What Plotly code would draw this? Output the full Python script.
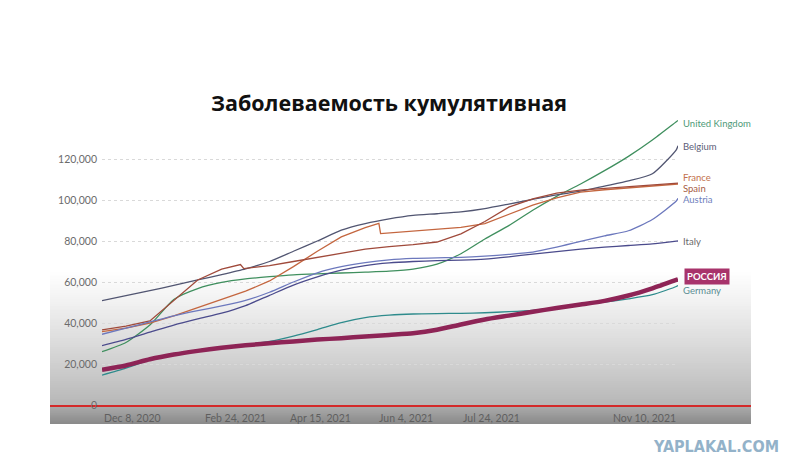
import plotly.graph_objects as go

# ---------------- data (cumulative confirmed cases per million) ----------------
dates = ["2020-12-08", "2020-12-22", "2021-01-05", "2021-01-19", "2021-02-02", "2021-02-16",
         "2021-03-02", "2021-03-16", "2021-03-30", "2021-04-13", "2021-04-27", "2021-05-11",
         "2021-05-25", "2021-06-08", "2021-06-22", "2021-07-06", "2021-07-20", "2021-08-03",
         "2021-08-17", "2021-08-31", "2021-09-14", "2021-09-28", "2021-10-12", "2021-10-26",
         "2021-11-09", "2021-11-10"]

uk      = [26000, 30500, 39000, 51500, 56800, 59800, 61500, 62600, 63500, 64000, 64400, 64800,
           65300, 66300, 68700, 73800, 81000, 87500, 95000, 101800, 107800, 114300, 121300, 129300,
           138200, 138800]
belgium = [50900, 53300, 55800, 58300, 61000, 63600, 66400, 70000, 75000, 80000, 85300, 88500,
           90800, 92500, 93300, 94200, 95800, 98000, 100300, 102500, 104300, 106800, 109300, 112800,
           124500, 126500]
austria = [34500, 37500, 40500, 43500, 46000, 48300, 51000, 55000, 60000, 64500, 67500, 69500,
           70800, 71500, 71800, 72000, 72600, 73500, 74600, 77000, 79800, 82500, 85000, 90500,
           99500, 100800]
italy   = [29000, 32000, 35500, 39000, 42000, 44800, 48500, 53500, 58500, 62500, 65800, 68000,
           69300, 70000, 70400, 70700, 71200, 72300, 73600, 74800, 76000, 77000, 77800, 78600,
           79900, 80000]
germany = [14600, 18000, 22000, 24900, 26800, 28200, 29400, 31000, 33600, 36800, 40200, 42600,
           43800, 44400, 44600, 44700, 45000, 45500, 46200, 47500, 49000, 50200, 51800, 53800,
           57800, 58300]
russia  = [17200, 19300, 22300, 24600, 26400, 27900, 29100, 30100, 31000, 31900, 32600, 33400,
           34200, 35000, 36700, 39300, 41700, 43600, 45500, 47300, 49000, 50800, 53400, 56900,
           61000, 61300]

dates_france = ["2020-12-08", "2020-12-22", "2021-01-05", "2021-01-19", "2021-02-02", "2021-02-16",
                "2021-03-02", "2021-03-16", "2021-03-30", "2021-04-13", "2021-04-27", "2021-05-11",
                "2021-05-19", "2021-05-20", "2021-05-25", "2021-06-08", "2021-06-22", "2021-07-06",
                "2021-07-20", "2021-08-03", "2021-08-17", "2021-08-31", "2021-09-14", "2021-09-28",
                "2021-10-12", "2021-10-26", "2021-11-09", "2021-11-10"]
france = [35800, 37500, 40000, 43500, 47500, 51500, 55500, 60500, 67500, 75000, 82000, 86500,
          88600, 83600, 83900, 85000, 85800, 86600, 88500, 93000, 97500, 101000, 103800, 105000,
          105800, 106600, 107600, 107800]

dates_spain = ["2020-12-08", "2020-12-22", "2021-01-05", "2021-01-19", "2021-02-02", "2021-02-16",
               "2021-02-27", "2021-03-01", "2021-03-16", "2021-03-30", "2021-04-13", "2021-04-27",
               "2021-05-11", "2021-05-25", "2021-06-08", "2021-06-22", "2021-07-06", "2021-07-20",
               "2021-08-03", "2021-08-17", "2021-08-31", "2021-09-14", "2021-09-28", "2021-10-12",
               "2021-10-26", "2021-11-09", "2021-11-10"]
spain = [36600, 38500, 41000, 51000, 61000, 66300, 68500, 66500, 68000, 70000, 72000, 74300,
         76000, 77300, 78200, 79500, 83500, 89500, 96500, 100500, 103300, 104800, 105600, 106300,
         107000, 108000, 108200]

series_names = ["United Kingdom", "Belgium", "France", "Spain", "Austria", "Italy", "Germany", "РОССИЯ"]
y_tick_values = [0, 20000, 40000, 60000, 80000, 100000, 120000]
x_tick_dates = ["2020-12-08", "2021-02-24", "2021-04-15", "2021-06-04", "2021-07-24", "2021-11-10"]
x_tick_labels = ["Dec 8, 2020", "Feb 24, 2021", "Apr 15, 2021", "Jun 4, 2021", "Jul 24, 2021", "Nov 10, 2021"]
title_text = "Заболеваемость кумулятивная"
watermark = "YAPLAKAL.COM"

# ---------------- layout geometry (target pixels; page body adds 8px offset) ----------------
W, H = 801, 473
OFF = 8
PL, PR, PT, PB = 102, 678, 110, 405          # plot area in target-screen pixels
ML, MT = PL - OFF, PT - OFF
MR, MB = W - (PR - OFF), H - (PB - OFF)
y_max = 143900


def pxx(px):   # target-screen x -> plot paper fraction
    return (px - PL) / (PR - PL)


def pxy(py):   # target-screen y -> plot paper fraction
    return (PB - py) / (PB - PT)


series = [
    # name, x, y, line colour, width, shape, label colour, label yshift
    ("United Kingdom", dates, uk, "#3f8f5e", 1.3, "spline", "#4f9a78", -3),
    ("Belgium", dates, belgium, "#515571", 1.3, "spline", "#5d6078", -1),
    ("France", dates_france, france, "#c4663f", 1.3, "linear", "#c2714c", 7),
    ("Spain", dates_spain, spain, "#a04a3b", 1.3, "linear", "#a65b43", -5),
    ("Austria", dates, austria, "#6c78bd", 1.3, "spline", "#6f7fbd", -1),
    ("Italy", dates, italy, "#4b4b8c", 1.3, "spline", "#6a6a6a", 0),
    ("Germany", dates, germany, "#2e8b8c", 1.3, "spline", "#5b8d93", -5),
    ("РОССИЯ", dates, russia, "#8e2456", 4.5, "spline", "#ffffff", 3),
]

fig = go.Figure()
for name, xs, ys, col, wd, shp, lcol, ysh in series:
    fig.add_trace(go.Scatter(x=xs, y=ys, mode="lines", name=name,
                             line=dict(color=col, width=wd, shape=shp,
                                       smoothing=0.6 if shp == "spline" else None),
                             hoverinfo="skip", showlegend=False))

annotations = []
for name, xs, ys, col, wd, shp, lcol, ysh in series:
    if name == "РОССИЯ":
        annotations.append(dict(x=xs[-1], y=ys[-1], xref="x", yref="y", text="<b>" + name + "</b>",
                                showarrow=False, xanchor="left", yanchor="middle", xshift=6, yshift=ysh,
                                font=dict(family="Lato, Noto Sans", size=9.5, color=lcol),
                                bgcolor="#a8336b", borderpad=2))
    else:
        annotations.append(dict(x=xs[-1], y=ys[-1], xref="x", yref="y", text=name,
                                showarrow=False, xanchor="left", yanchor="middle", xshift=3, yshift=ysh,
                                font=dict(family="Lato, Noto Sans", size=9.5, color=lcol)))

for i, (d, lab) in enumerate(zip(x_tick_dates, x_tick_labels)):
    anchor = "left" if i == 0 else ("right" if i == len(x_tick_dates) - 1 else "center")
    annotations.append(dict(x=d, y=0, xref="x", yref="paper", text=lab, showarrow=False,
                            xanchor=anchor, yanchor="top", yshift=-5,
                            font=dict(family="Lato, Noto Sans", size=10.5, color="#5f5f5f")))

annotations.append(dict(x=pxx(716), y=pxy(446), xref="paper", yref="paper",
                        text="<b>" + watermark + "</b>", showarrow=False,
                        xanchor="center", yanchor="middle",
                        font=dict(family="Liberation Sans Narrow, DejaVu Sans Condensed, Roboto",
                                  size=16, color="#93b2c9")))

# background gradient (video-frame look) drawn as thin overlapping strips
shapes = []
top, mid, bot = 270.0, 406.0, 424.0
n1 = 60
step1 = (mid - top) / n1
for i in range(n1):
    y0 = top + step1 * i
    y1 = min(mid, y0 + step1 + 1.0)
    t = (i + 0.5) / n1
    g = int(round(255 - (255 - 182) * (t ** 1.15)))
    shapes.append(dict(type="rect", xref="paper", yref="paper",
                       x0=pxx(50), x1=pxx(751), y0=pxy(y1), y1=pxy(y0),
                       fillcolor=f"rgb({g},{g},{g})", line=dict(width=0), layer="below"))
n2 = 10
step2 = (bot - mid) / n2
for i in range(n2):
    y0 = mid + step2 * i
    y1 = min(bot, y0 + step2 + 0.8)
    t = (i + 0.5) / n2
    g = int(round(172 - 35 * t))
    shapes.append(dict(type="rect", xref="paper", yref="paper",
                       x0=pxx(50), x1=pxx(751), y0=pxy(y1), y1=pxy(y0),
                       fillcolor=f"rgb({g},{g},{g})", line=dict(width=0), layer="below"))
shapes.append(dict(type="line", xref="paper", yref="paper",
                   x0=pxx(50), x1=pxx(751), y0=pxy(406), y1=pxy(406),
                   line=dict(color="#d42a2a", width=2), layer="below"))

fig.update_layout(
    width=W, height=H,
    margin=dict(l=ML, r=MR, t=MT, b=MB),
    paper_bgcolor="#ffffff", plot_bgcolor="rgba(0,0,0,0)",
    title=dict(text="<b>" + title_text + "</b>", xref="container", yref="container",
               x=(389 - OFF) / W, y=1 - (103 - OFF) / H, xanchor="center", yanchor="middle",
               font=dict(family="Open Sans, Noto Sans", size=21.5, color="#111111")),
    xaxis=dict(range=[x_tick_dates[0], x_tick_dates[-1]], showgrid=False, zeroline=False,
               showline=False, showticklabels=False, ticks=""),
    yaxis=dict(range=[0, y_max], tickvals=y_tick_values, tickformat=",",
               showgrid=True, gridcolor="#d9d9d9", griddash="dot", gridwidth=1,
               zeroline=False, showline=False, ticks="", ticklabelstandoff=4,
               tickfont=dict(family="Lato, Noto Sans", size=10.5, color="#6b6b6b")),
    annotations=annotations,
    shapes=shapes,
)

fig.write_html("out.html")
